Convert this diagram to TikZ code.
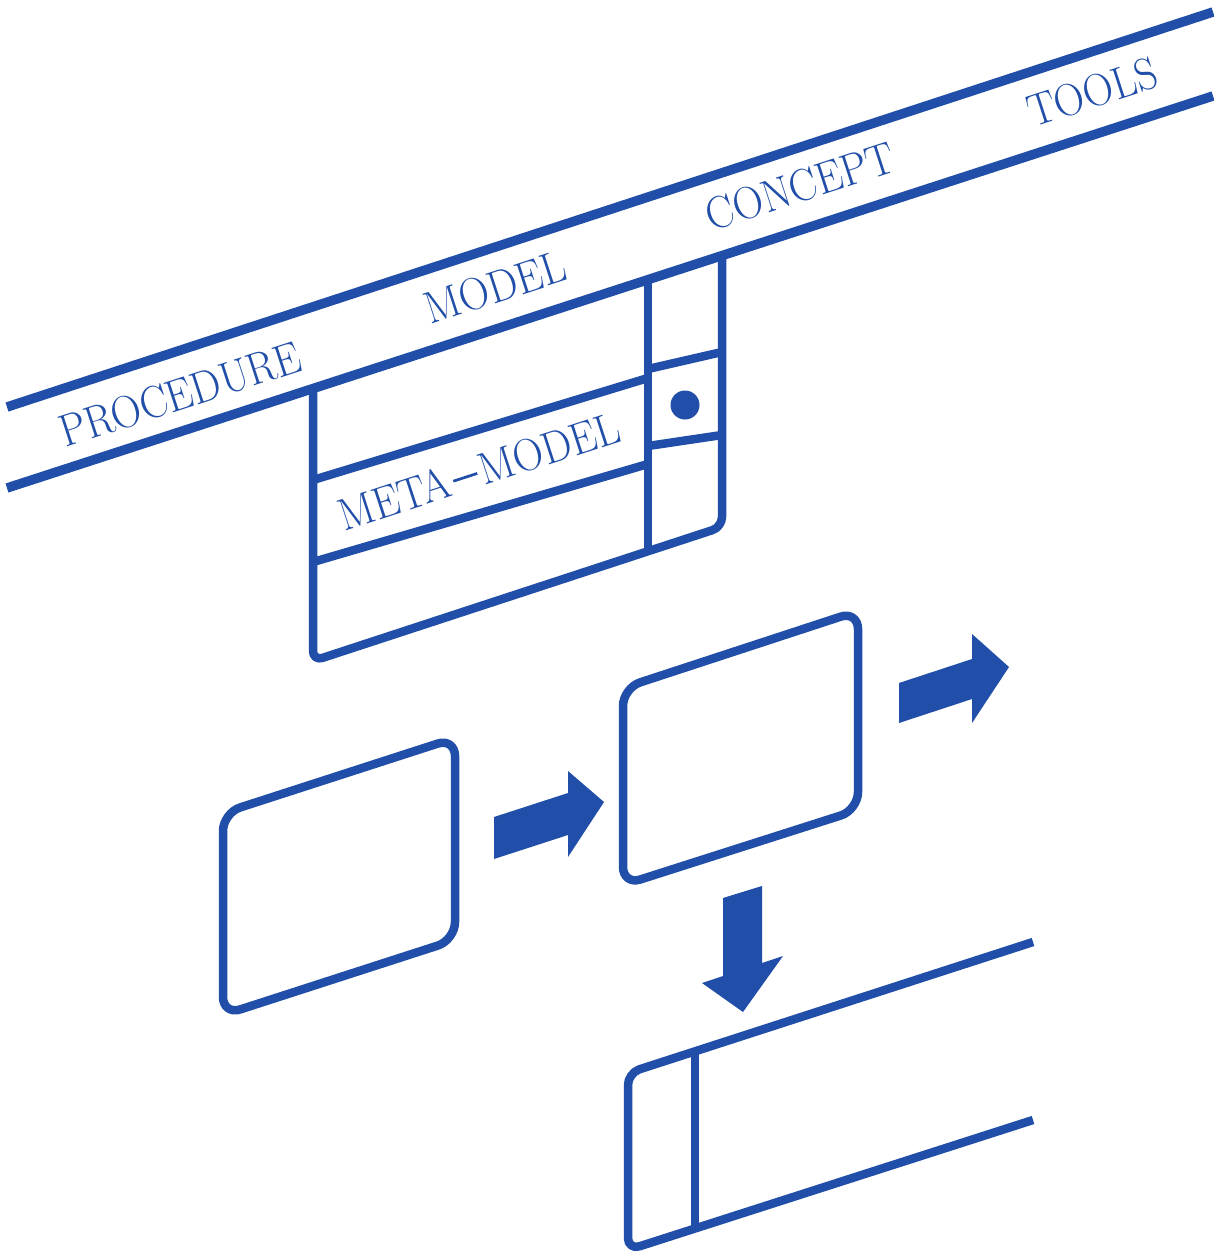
\documentclass[tikz,border=0pt]{standalone}
\usetikzlibrary{calc}
\definecolor{ink}{RGB}{33,78,168}
\newcommand{\tallcaps}[1]{\scalebox{1}[1.08]{#1}}
\newcommand{\longdash}{\kern0.08em\rule[0.28em]{0.6em}{0.06em}\kern0.08em}
\begin{document}
\begin{tikzpicture}[x=1pt,y=-1pt,
  bandline/.style={draw=ink,line width=9.5pt},
  outline/.style={draw=ink,line width=8.5pt,line join=round},
  blockarrow/.style={fill=ink,draw=none},
  bandtext/.style={text=ink,font=\fontsize{42}{50}\selectfont,rotate=18,anchor=base,inner sep=0pt}]
\fill[white] (0,0) rectangle (1213,1260);
\useasboundingbox (0,0) rectangle (1213,1260);

% the slanted band with the four headings
\coordinate (bu1) at (7,407);   \coordinate (bu2) at (1213,12);
\coordinate (bl1) at (7,488);   \coordinate (bl2) at (1213,96);
\draw[bandline] (bu1) -- (bu2);
\draw[bandline] (bl1) -- (bl2);
\node[bandtext] (procedure) at (185,409) {\tallcaps{PROCEDURE}};
\node[bandtext] (model) at (500,302) {\tallcaps{MODEL}};
\node[bandtext] (concept) at (805,201) {\tallcaps{CONCEPT}};
\node[bandtext] (tools) at (1097,107) {\tallcaps{TOOLS}};

% meta-model table hanging from the band
\draw[outline,rounded corners=10pt] (313,388.5) -- (313,661) -- (722,527) -- (722,255.6);
\draw[outline] (648,279.6) -- (648,551);
\draw[outline] (313,480) -- (648,378);
\draw[outline] (648,369) -- (722,352);
\draw[outline] (313,562) -- (648,464);
\draw[outline] (648,446) -- (722,435);
\node[circle,fill=ink,minimum size=29pt,inner sep=0pt] (dot) at (685,405) {};
\node[bandtext] (meta) at (484,486) {\tallcaps{META\longdash MODEL}};

% process boxes
\draw[outline,rounded corners=18pt] (223,813) -- (455,738) -- (455,940) -- (223,1015) -- cycle;
\draw[outline,rounded corners=18pt] (623,688) -- (858,611) -- (858,810) -- (623,885) -- cycle;

% block arrows
\fill[blockarrow] (494,817) -- (568,793) -- (568,771) -- (604,802) -- (568,857) -- (568,835) -- (494,859) -- cycle;
\fill[blockarrow] (899,683) -- (972,659) -- (972,634) -- (1009,667) -- (972,723) -- (972,699) -- (899,723) -- cycle;
\fill[blockarrow] (723,898) -- (762,886) -- (762,963) -- (783,956) -- (743,1012) -- (702,983) -- (723,976) -- cycle;

% output table at the bottom
\draw[outline,rounded corners=12pt] (1033,942) -- (628,1073) -- (628,1250) -- (1033,1120);
\draw[outline] (695,1051) -- (695,1228.5);
\end{tikzpicture}
\end{document}
